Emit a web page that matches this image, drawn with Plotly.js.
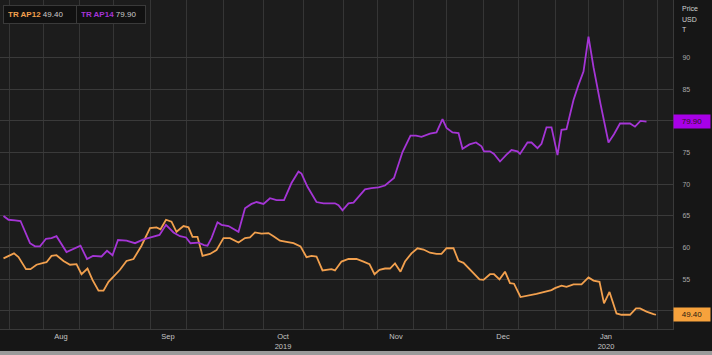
<!DOCTYPE html>
<html><head><meta charset="utf-8">
<script src="https://cdn.plot.ly/plotly-3.0.1.min.js"></script>
<style>html,body{margin:0;padding:0;background:#161616;}#chart{width:712px;height:355px;}</style>
</head><body><div id="chart"></div>
<script>
// trading-day index (approx.) and prices
const ap12Day = [0.7,1.7,2.8,3.7,5.2,6.1,7.3,8.7,9.3,10.3,11.3,12.7,14.0,15.3,16.3,17.5,18.5,19.7,20.7,21.7,23.0,24.0,25.3,26.7,28.3,30.0,31.3,32.1,33.2,34.3,35.3,36.7,37.7,38.5,39.5,40.5,42.0,43.3,44.7,46.0,47.7,49.0,50.0,51.0,52.3,53.7,54.7,56.0,57.3,58.7,60.1,61.3,62.3,63.3,64.5,65.3,66.3,67.0,68.3,69.7,71.3,72.7,73.9,74.9,75.9,77.0,78.0,79.0,80.1,81.0,82.3,83.5,84.7,86.0,87.3,88.3,89.3,90.7,91.7,92.7,94.0,95.9,96.7,98.0,98.8,99.9,101.0,102.0,102.8,104.1,107.3,110.3,111.0,112.3,113.3,114.7,116.3,117.7,118.7,119.9,120.8,121.9,123.3,124.3,126.0,127.2,128.0,129.3,130.7,131.2];
const ap12Price = [58.3,58.7,59.1,58.5,56.6,56.6,57.3,57.6,57.7,58.7,58.8,57.9,57.3,57.4,55.8,56.7,54.9,53.2,53.2,54.6,55.7,56.5,57.9,58.2,60.3,63.1,63.2,62.9,64.4,64.1,62.5,63.4,63.2,61.7,61.7,58.7,59.0,59.6,61.5,61.5,60.8,61.5,61.6,62.4,62.2,62.3,61.8,61.1,60.9,60.7,60.2,58.5,58.7,58.6,56.4,56.5,56.6,56.4,57.8,58.2,58.2,57.8,57.4,55.8,56.5,56.7,56.7,57.5,56.2,57.8,59.1,59.9,59.7,59.2,59.0,59.0,59.9,59.9,57.9,57.6,56.5,55.0,54.9,55.8,55.8,55.0,56.2,54.4,54.3,52.2,52.7,53.3,53.6,54.0,53.8,54.2,54.2,55.3,54.8,54.6,51.2,53.0,49.6,49.4,49.4,50.4,50.4,49.9,49.5,49.4];
const ap14Day = [0.7,1.7,3.0,4.1,6.0,7.0,8.0,9.2,10.3,11.3,13.3,14.6,16.1,17.4,18.6,20.3,21.4,22.5,23.6,25.3,27.0,28.7,30.0,31.9,33.2,34.7,36.0,37.2,38.1,39.7,40.8,41.5,42.3,43.5,44.3,45.7,47.7,49.0,50.3,51.3,52.7,54.0,55.3,56.8,58.3,59.7,60.3,61.5,63.3,64.7,66.0,67.0,67.7,68.5,69.7,70.7,71.7,73.0,74.3,75.7,77.0,78.8,80.5,82.1,83.2,84.3,86.0,87.3,88.5,89.3,90.5,91.7,92.5,93.9,95.2,96.3,96.8,98.0,98.8,100.0,101.3,102.3,103.5,104.0,105.5,106.3,107.5,108.3,109.3,110.3,111.5,112.3,113.3,114.7,115.7,116.7,117.7,118.7,120.1,121.7,122.8,124.0,126.0,127.0,128.1,129.3];
const ap14Price = [65.0,64.4,64.3,64.2,60.7,60.2,60.2,61.4,61.5,61.8,59.3,59.8,60.3,58.2,58.7,58.6,59.5,58.8,61.2,61.1,60.7,61.3,61.6,62.0,63.6,62.4,61.8,61.6,60.7,60.8,60.4,60.3,61.5,64.0,63.6,63.4,62.5,66.2,66.9,67.2,66.9,67.8,67.5,67.5,70.2,72.0,71.7,69.6,67.2,67.0,67.0,67.0,66.7,65.9,67.0,67.1,68.0,69.2,69.4,69.5,69.8,71.0,75.1,77.7,77.7,77.5,78.0,78.2,80.3,78.9,78.2,78.1,75.6,76.3,76.6,76.0,75.2,75.2,74.8,73.6,74.7,75.4,75.2,74.8,76.6,76.6,75.7,76.4,79.0,79.0,74.6,78.6,78.7,83.3,85.7,87.8,93.3,88.5,82.7,76.6,77.9,79.6,79.6,79.1,80.0,79.9];
const gridDays = [1.8,8.6,15.8,22.6,30,37.2,44.6,52.6,60.6,68.6,75.4,82.6,89.2,96.6,103.6,111,117.6,124.6,131.4];
const monthCenters = [12.2,33.6,56.6,79.2,100.6,121.2];
const monthLabels = ['Aug','Sep','Oct<br>2019','Nov','Dec','Jan<br>2020'];
const yTicks = [50,55,60,65,70,75,80,85,90];
const yTickText = ['','55','60','65','70','75','','85','90'];
const names = ['TR AP12','TR AP14'];
const lastPrices = ['49.40','79.90'];
const axisTitle = ['Price','USD','T'];
const colors = ['#f2a04e','#a535d6'];
const boxColors = ['#f7a23c','#a800e8'];

const traces = [
  {x: ap12Day, y: ap12Price, type:'scatter', mode:'lines', line:{color:colors[0], width:1.8}, name:names[0], hoverinfo:'skip'},
  {x: ap14Day, y: ap14Price, type:'scatter', mode:'lines', line:{color:colors[1], width:1.8}, name:names[1], hoverinfo:'skip'}
];

const annotations = [];
const legX = [0.005, 0.113];
const legW = [64, 60];
names.forEach((n,i)=>{
  annotations.push({xref:'paper', yref:'paper', x:legX[i], y:0.985, xanchor:'left', yanchor:'top', showarrow:false,
    text:'<b><span style="color:'+colors[i]+'">'+n+'</span></b> <span style="color:#cccccc">'+lastPrices[i]+'</span>',
    font:{family:'Liberation Sans, Arial', size:8, color:'#cccccc'}, bgcolor:'#111111', bordercolor:'#3a3a3a',
    borderwidth:1, borderpad:4, width:legW[i], align:'left'});
});
axisTitle.forEach((t,i)=>{
  annotations.push({xref:'paper', yref:'paper', x:1.01, y:1 - (3 + i*10.5)/329, xanchor:'left', yanchor:'top', showarrow:false,
    text:'<span style="color:#d0d0d0">'+t+'</span>', font:{family:'Liberation Sans, Arial', size:7, color:'#d0d0d0'}});
});
lastPrices.forEach((p,i)=>{
  annotations.push({xref:'paper', yref:'y', x:1.0, y:parseFloat(p), xanchor:'left', yanchor:'middle', showarrow:false,
    text:p, font:{family:'Liberation Sans, Arial', size:8, color:'#2a1a10'},
    bgcolor:boxColors[i], borderpad:2, width:32, align:'center'});
});

const layout = {
  width:712, height:355,
  margin:{l:0, r:39, t:0, b:26, pad:0},
  paper_bgcolor:'#161616', plot_bgcolor:'#1c1c1c',
  showlegend:false,
  xaxis:{range:[0,134.6], tickmode:'array', tickvals:monthCenters, ticktext:monthLabels,
    showgrid:false, zeroline:false, ticks:'', ticklen:0,
    tickfont:{family:'Liberation Sans, Arial', size:7.5, color:'#c4c4c4'},
    minor:{tickmode:'array', tickvals:gridDays, showgrid:true, gridcolor:'#353535', gridwidth:1, ticks:''},
    showline:true, linecolor:'#3a3a3a', fixedrange:true},
  yaxis:{range:[47.15,99.1], side:'right', tickmode:'array', tickvals:yTicks, ticktext:yTickText,
    showgrid:true, gridcolor:'#3a3a3a', gridwidth:1, zeroline:false, ticks:'', ticklabelstandoff:7,
    tickfont:{family:'Liberation Sans, Arial', size:7, color:'#a8a8a8'},
    showline:true, linecolor:'#3a3a3a', fixedrange:true},
  annotations: annotations,
  shapes:[
    {type:'rect', xref:'paper', yref:'paper', x0:-0.01, x1:1.1, y0:-26/329, y1:-22/329, fillcolor:'#9a9a9a', line:{width:0}, layer:'above'}
  ]
};
Plotly.newPlot('chart', traces, layout, {staticPlot:true, displayModeBar:false});
</script></body></html>
